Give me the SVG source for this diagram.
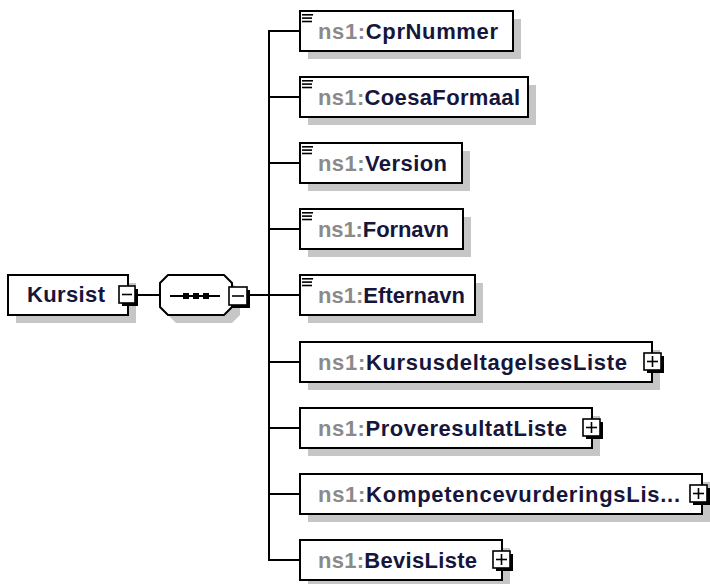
<svg xmlns="http://www.w3.org/2000/svg" width="710" height="584" viewBox="0 0 710 584">
<defs>
<style>
.shadow{fill:#c6c6c6;}
.box{fill:#ffffff;stroke:#000000;stroke-width:2;}
.lbl{font-family:"Liberation Sans",Arial,sans-serif;font-weight:bold;font-size:22px;fill:#16163c;}
.ns{fill:#8a8a8a;}
.conn{stroke:#000000;stroke-width:2;fill:none;}
.btnsh{fill:#000000;}
.btn{fill:#ffffff;stroke:#000000;stroke-width:1.6;}
.sign{stroke:#000000;stroke-width:1.6;}
.hdr{fill:#000000;}
</style>
</defs>
<rect width="710" height="584" fill="#ffffff"/>

<g id="connectors">
<line class="conn" x1="136" y1="295" x2="160" y2="295"/>
<line class="conn" x1="250" y1="295" x2="300" y2="295"/>
<polyline class="conn" points="300,31 269,31 269,560 300,560"/>
<line class="conn" x1="269" y1="97" x2="300" y2="97"/>
<line class="conn" x1="269" y1="163" x2="300" y2="163"/>
<line class="conn" x1="269" y1="229" x2="300" y2="229"/>
<line class="conn" x1="269" y1="362" x2="300" y2="362"/>
<line class="conn" x1="269" y1="428" x2="300" y2="428"/>
<line class="conn" x1="269" y1="494" x2="300" y2="494"/>
</g>

<g id="Kursist">
<rect class="shadow" x="16" y="283" width="120" height="40"/>
<rect class="box" x="8" y="275" width="120" height="40"/>
<text class="lbl" x="27" y="302" textLength="78">Kursist</text>
<rect class="btnsh" x="122" y="289" width="16" height="17"/>
<rect class="btn" x="119" y="286" width="16" height="17"/>
<line class="sign" x1="122" y1="294.5" x2="132" y2="294.5"/>
</g>

<g id="sequence">
<polygon class="shadow" points="176,283 232,283 240,291 240,315 232,323 176,323 168,315 168,291"/>
<polygon class="box" points="168,275 224,275 232,283 232,307 224,315 168,315 160,307 160,283"/>
<line class="conn" x1="170" y1="296" x2="220" y2="296"/>
<rect class="hdr" x="183" y="293" width="6" height="6"/>
<rect class="hdr" x="193" y="293" width="6" height="6"/>
<rect class="hdr" x="203" y="293" width="6" height="6"/>
<rect class="btnsh" x="232" y="290" width="18" height="18"/>
<rect class="btn" x="229" y="287" width="18" height="18"/>
<line class="sign" x1="232" y1="296" x2="244" y2="296"/>
</g>

<g id="CprNummer">
<rect class="shadow" x="308" y="19" width="213" height="40"/>
<rect class="box" x="300" y="11" width="213" height="40"/>
<rect class="hdr" x="302" y="14" width="11" height="1.6"/>
<rect class="hdr" x="302" y="17.3" width="10" height="1.6"/>
<rect class="hdr" x="302" y="20.7" width="10" height="1.6"/>
<text class="lbl" x="318" y="39" textLength="180"><tspan class="ns">ns1:</tspan>CprNummer</text>
</g>

<g id="CoesaFormaal">
<rect class="shadow" x="308" y="85" width="228" height="40"/>
<rect class="box" x="300" y="77" width="228" height="40"/>
<rect class="hdr" x="302" y="80" width="11" height="1.6"/>
<rect class="hdr" x="302" y="83.3" width="10" height="1.6"/>
<rect class="hdr" x="302" y="86.7" width="10" height="1.6"/>
<text class="lbl" x="318" y="105" textLength="202"><tspan class="ns">ns1:</tspan>CoesaFormaal</text>
</g>

<g id="Version">
<rect class="shadow" x="308" y="151" width="162" height="40"/>
<rect class="box" x="300" y="143" width="162" height="40"/>
<rect class="hdr" x="302" y="146" width="11" height="1.6"/>
<rect class="hdr" x="302" y="149.3" width="10" height="1.6"/>
<rect class="hdr" x="302" y="152.7" width="10" height="1.6"/>
<text class="lbl" x="318" y="171" textLength="129"><tspan class="ns">ns1:</tspan>Version</text>
</g>

<g id="Fornavn">
<rect class="shadow" x="308" y="217" width="163" height="40"/>
<rect class="box" x="300" y="209" width="163" height="40"/>
<rect class="hdr" x="302" y="212" width="11" height="1.6"/>
<rect class="hdr" x="302" y="215.3" width="10" height="1.6"/>
<rect class="hdr" x="302" y="218.7" width="10" height="1.6"/>
<text class="lbl" x="318" y="237" textLength="131"><tspan class="ns">ns1:</tspan>Fornavn</text>
</g>

<g id="Efternavn">
<rect class="shadow" x="308" y="283" width="175" height="40"/>
<rect class="box" x="300" y="275" width="175" height="40"/>
<rect class="hdr" x="302" y="278" width="11" height="1.6"/>
<rect class="hdr" x="302" y="281.3" width="10" height="1.6"/>
<rect class="hdr" x="302" y="284.7" width="10" height="1.6"/>
<text class="lbl" x="318" y="303" textLength="147"><tspan class="ns">ns1:</tspan>Efternavn</text>
</g>

<g id="KursusdeltagelsesListe">
<rect class="shadow" x="308" y="350" width="352" height="40"/>
<rect class="box" x="300" y="342" width="352" height="40"/>
<text class="lbl" x="318" y="370" textLength="309"><tspan class="ns">ns1:</tspan>KursusdeltagelsesListe</text>
<rect class="btnsh" x="647" y="356" width="17" height="17"/>
<rect class="btn" x="644" y="353" width="17" height="17"/>
<line class="sign" x1="647" y1="361.5" x2="658" y2="361.5"/>
<line class="sign" x1="652.5" y1="356" x2="652.5" y2="367"/>
</g>

<g id="ProveresultatListe">
<rect class="shadow" x="308" y="416" width="292" height="40"/>
<rect class="box" x="300" y="408" width="292" height="40"/>
<text class="lbl" x="318" y="436" textLength="249"><tspan class="ns">ns1:</tspan>ProveresultatListe</text>
<rect class="btnsh" x="586" y="422" width="17" height="17"/>
<rect class="btn" x="583" y="419" width="17" height="17"/>
<line class="sign" x1="586" y1="427.5" x2="597" y2="427.5"/>
<line class="sign" x1="591.5" y1="422" x2="591.5" y2="433"/>
</g>

<g id="KompetencevurderingsListe">
<rect class="shadow" x="308" y="482" width="402" height="40"/>
<rect class="box" x="300" y="474" width="402" height="40"/>
<text class="lbl" x="318" y="502" textLength="362"><tspan class="ns">ns1:</tspan>KompetencevurderingsLis...</text>
<rect class="btnsh" x="693" y="488" width="17" height="17"/>
<rect class="btn" x="690" y="485" width="17" height="17"/>
<line class="sign" x1="693" y1="493.5" x2="704" y2="493.5"/>
<line class="sign" x1="698.5" y1="488" x2="698.5" y2="499"/>
</g>

<g id="BevisListe">
<rect class="shadow" x="308" y="548" width="202" height="40"/>
<rect class="box" x="300" y="540" width="202" height="40"/>
<text class="lbl" x="318" y="568" textLength="159"><tspan class="ns">ns1:</tspan>BevisListe</text>
<rect class="btnsh" x="496" y="554" width="17" height="17"/>
<rect class="btn" x="493" y="551" width="17" height="17"/>
<line class="sign" x1="496" y1="559.5" x2="507" y2="559.5"/>
<line class="sign" x1="501.5" y1="554" x2="501.5" y2="565"/>
</g>
</svg>
